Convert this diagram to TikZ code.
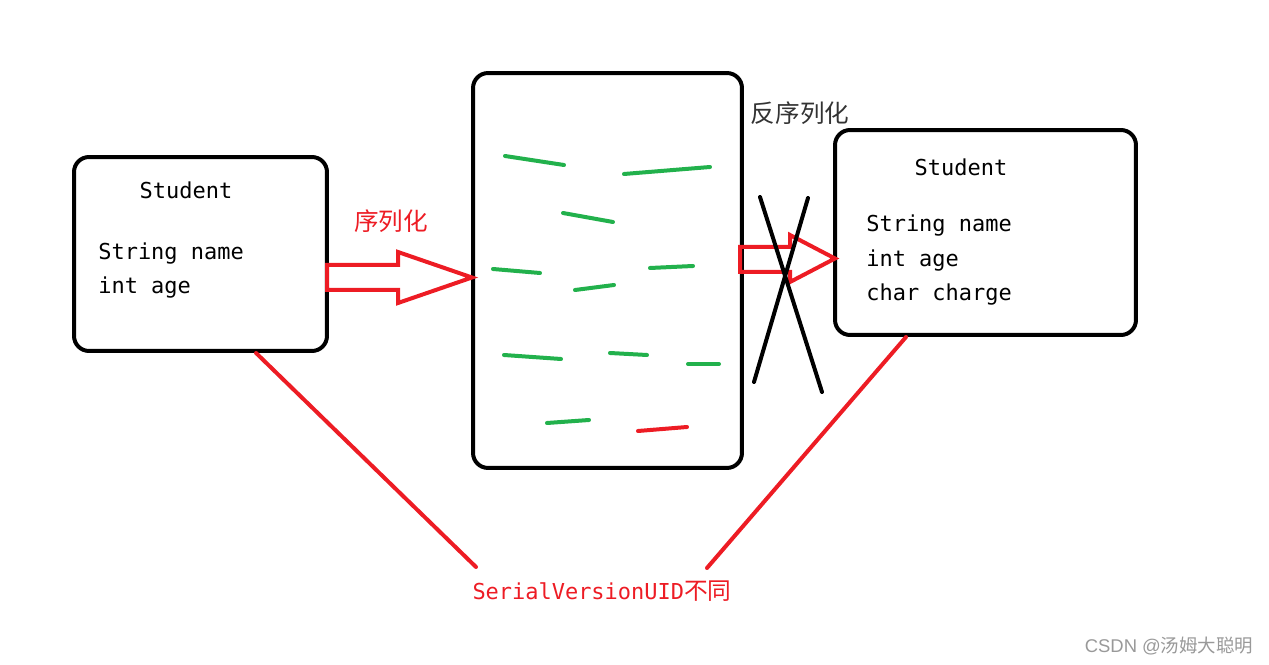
\documentclass[tikz,border=0pt]{standalone}
\usepackage{fontspec}
\setmonofont{DejaVu Sans Mono}
\newfontfamily\cjkfont{Noto Sans CJK SC}
\newfontfamily\markfont{Liberation Sans}
\usetikzlibrary{positioning}
\definecolor{paintred}{HTML}{ED1C24}
\definecolor{paintgreen}{HTML}{22B14C}

\begin{document}
\begin{tikzpicture}[
    x=0.02cm, y=-0.02cm,
    box/.style={draw, line width=0.08cm, rounded corners=0.3cm, inner sep=0pt},
    field/.style={anchor=west, inner sep=0pt, font=\ttfamily\fontsize{12.5}{15}\selectfont},
    title/.style={inner sep=0pt, font=\ttfamily\fontsize{12.5}{15}\selectfont},
    cjk_label/.style={inner sep=0pt, font=\cjkfont\fontsize{14}{16}\selectfont},
    hollow_arrow/.style={draw=paintred, line width=0.08cm, miter limit=20},
    stroke/.style={line width=0.08cm, line cap=round},
    data_bit/.style={stroke, paintgreen},
    uid_line/.style={stroke, paintred}
]
\useasboundingbox (0,0) rectangle (1269,665);

\node (student_old) [box, minimum width=5.06cm, minimum height=3.88cm] at (200.5,254) {};
\node (stream) [box, minimum width=5.38cm, minimum height=7.9cm] at (607.5,270.5) {};
\node (student_new) [box, minimum width=6.02cm, minimum height=4.1cm] at (985.5,232.5) {};

\node (old_title) [title] at (186,190) {Student};
\node (old_name) [field] at (98,254) {String name};
\node (old_age) [below=0.68cm of old_name.west, field] {int age};

\node (new_title) [title] at (961,167) {Student};
\node (new_name) [field] at (866,226) {String name};
\node (new_age) [below=0.69cm of new_name.west, field] {int age};
\node (new_charge) [below=0.69cm of new_age.west, field] {char charge};

\draw[data_bit] (505,156) -- (564,165);
\draw[data_bit] (624,174) -- (710,167);
\draw[data_bit] (563,213) -- (613,222);
\draw[data_bit] (493,269) -- (540,273);
\draw[data_bit] (650,268) -- (693,266);
\draw[data_bit] (575,290) -- (614,285);
\draw[data_bit] (504,355) -- (561,359);
\draw[data_bit] (610,353) -- (647,355);
\draw[data_bit] (688,364) -- (719,364);
\draw[data_bit] (547,423) -- (589,420);
\draw[stroke, paintred] (638,431) -- (687,427);

\coordinate (ser_tail) at (327,277.5);
\coordinate (ser_tip) at (472,277.5);
\draw[hollow_arrow] (ser_tail) ++(0,-12.5) -- ++(71,0) -- ++(0,-13) -- (ser_tip)
    -- ++(-74,25.5) -- ++(0,-13) -- ++(-71,0) -- cycle;
\node (ser_label) [cjk_label, text=paintred] at (391,221) {序列化};

\coordinate (deser_tail) at (740,259.5);
\coordinate (deser_tip) at (835,258.5);
\draw[hollow_arrow] (deser_tail) ++(0,-12.5) -- ++(50,0) -- ++(0,-12) -- (deser_tip)
    -- ++(-45,23.5) -- ++(0,-10) -- ++(-50,0) -- cycle;
\node (deser_label) [cjk_label, text=black!80] at (800,113) {反序列化};

\draw[stroke] (760,197) -- (822,392);
\draw[stroke] (808,198) -- (754,382);

\node (uid_label) [inner sep=0pt, text=paintred, font=\ttfamily\fontsize{12.5}{15}\selectfont] at (602,591)
    {SerialVersionUID{\cjkfont\fontsize{13.5}{15}\selectfont 不同}};
\coordinate (uid_left) at (476,567);
\coordinate (uid_right) at (707,568);
\draw[uid_line] (student_old.south west) ++(184,0) -- (uid_left);
\draw[uid_line] (student_new.south west) ++(73,0) -- (uid_right);

\node (watermark) [inner sep=0pt, text=black!40, font=\markfont\fontsize{10.5}{12}\selectfont] at (1169,646)
    {CSDN @{\cjkfont 汤姆大聪明}};
\end{tikzpicture}
\end{document}
